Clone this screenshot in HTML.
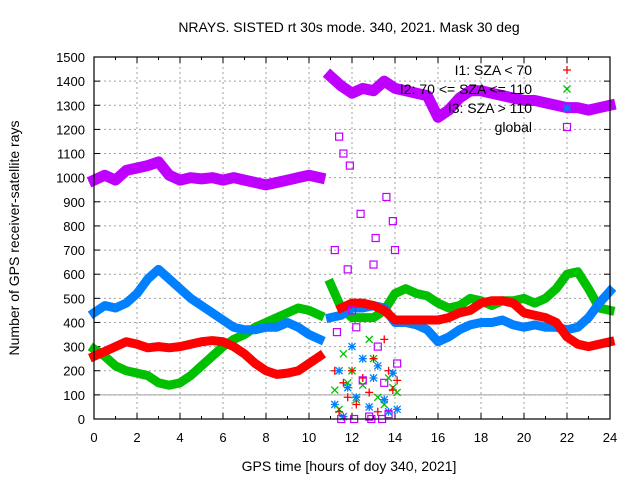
<!DOCTYPE html>
<html><head><meta charset="utf-8"><style>
body{margin:0;background:#fff}
svg{display:block;font-family:"Liberation Sans",sans-serif}
</style></head><body>
<svg id="chart" width="640" height="480">
<text x="349" y="32" text-anchor="middle" font-size="14">NRAYS. SISTED rt 30s mode. 340, 2021. Mask 30 deg</text>
<text transform="translate(19,238) rotate(-90)" text-anchor="middle" font-size="14">Number of GPS receiver-satellite rays</text>
<text x="349" y="471" text-anchor="middle" font-size="14">GPS time [hours of doy 340, 2021]</text>
<g id="grid"></g><g id="ticks"></g><g id="marks"></g><g id="legend"></g>
<rect x="94" y="57" width="516" height="362" fill="none" stroke="#000" stroke-width="1.2"/>
</svg>
<script>
const hours=[0,0.5,1,1.5,2,2.5,3,3.5,4,4.5,5,5.5,6,6.5,7,7.5,8,8.5,9,9.5,10,10.5,11,11.5,12,12.5,13,13.5,14,14.5,15,15.5,16,16.5,17,17.5,18,18.5,19,19.5,20,20.5,21,21.5,22,22.5,23,23.5,24];
const i1=[260,280,300,320,310,295,300,295,300,310,320,325,320,300,270,230,200,185,190,200,230,260,null,460,480,480,470,450,410,410,410,410,410,420,440,450,480,490,490,480,440,430,420,400,340,310,300,310,320];
const i2=[290,260,220,200,190,180,150,140,150,180,220,260,300,330,350,380,400,420,440,460,450,430,560,460,420,420,420,450,520,540,520,510,480,460,470,500,490,470,490,490,500,480,500,540,600,610,540,460,450];
const i3=[440,470,460,480,520,580,620,580,540,500,470,440,410,380,370,370,380,380,400,380,350,330,420,430,460,460,470,460,400,400,390,370,320,340,370,390,400,400,410,390,380,390,380,380,370,380,420,480,530];
const glob=[990,1010,990,1030,1040,1050,1065,1010,990,1000,995,1000,990,1000,990,980,970,980,990,1000,1010,1000,1420,1380,1350,1370,1360,1400,1370,1360,1350,1340,1250,1280,1330,1360,1360,1350,1340,1330,1320,1320,1310,1300,1290,1290,1280,1290,1300];
const scatX=[11.2,11.4,11.6,11.8,12.0,12.2,12.5,12.8,13.0,13.2,13.5,13.7,13.9,14.1,11.3,11.9,12.4,13.1,13.6,14.0,11.5,12.1,12.9,13.4];
const scatG=[700,1170,1100,620,450,380,160,10,640,300,150,20,820,230,360,1050,850,750,920,700,0,0,0,0];
const scatR=[200,30,150,90,200,60,170,110,250,30,330,200,120,160];
const scatI2=[120,40,270,150,200,80,140,330,250,90,60,170,130,110];
const scatI3=[60,200,10,130,300,90,250,50,170,220,80,30,190,40];
const xTicks=[0,2,4,6,8,10,12,14,16,18,20,22,24];
const yTicks=[0,100,200,300,400,500,600,700,800,900,1000,1100,1200,1300,1400,1500];
const X=h=>94+h*516/24, Y=v=>419-v*362/1500;
const NS="http://www.w3.org/2000/svg";
function mk(parent,tag,attrs){const e=document.createElementNS(NS,tag);for(const k in attrs)e.setAttribute(k,attrs[k]);document.getElementById(parent).appendChild(e);return e;}
yTicks.forEach(v=>{
 if(v>0&&v<1500){const g=mk('grid','line',{x1:94,x2:610,y1:Y(v),y2:Y(v),stroke:'#a0a0a0','stroke-dasharray':'2,3'});
 
 }
 const t=mk('ticks','text',{x:85,y:Y(v)+5,'text-anchor':'end','font-size':13});t.textContent=v;
 
 
 mk('ticks','line',{x1:94,x2:100,y1:Y(v),y2:Y(v),stroke:'#000'});mk('ticks','line',{x1:604,x2:610,y1:Y(v),y2:Y(v),stroke:'#000'});
});
const cy=mk('grid','line',{x1:94,x2:610,y1:Y(100),y2:Y(100),stroke:'#a0a0a0'});


for(let h=0;h<=24;h++){const big=h%2==0;mk('ticks','line',{x1:X(h),x2:X(h),y1:419,y2:big?413:416,stroke:'#000'});mk('ticks','line',{x1:X(h),x2:X(h),y1:57,y2:big?63:60,stroke:'#000'});}
xTicks.forEach(h=>{
 if(h>0&&h<24){const g=mk('grid','line',{x1:X(h),x2:X(h),y1:57,y2:419,stroke:'#a0a0a0','stroke-dasharray':'2,3'});
 
 }
 const t=mk('ticks','text',{x:X(h),y:442,'text-anchor':'middle','font-size':13});t.textContent=h;
 
 
});
function band(vals,color,name,w){
 let segs=[],cur=[],prevH=null;
 vals.forEach((v,i)=>{
  const h=hours[i];
  if(v==null||(prevH!==null&&prevH<=10.5&&h>=11)){if(cur.length)segs.push(cur);cur=[];}
  if(v!=null){cur.push(X(h)+','+Y(v));prevH=h;}
 });
 if(cur.length)segs.push(cur);
 segs.forEach(s=>{const p=mk('marks','polyline',{points:s.join(' '),fill:'none',stroke:color,'stroke-width':w,'stroke-linejoin':'round','stroke-linecap':'square'});
 
 });
}
function marker(type,x,y,color,name){
 let e;
 if(type=='sq')e=mk('marks','rect',{x:x-3.5,y:y-3.5,width:7,height:7,fill:'none',stroke:color,'stroke-width':1.2});
 else{let d='';if(type=='+'||type=='*')d+=`M${x-4} ${y}H${x+4}M${x} ${y-4}V${y+4}`;if(type=='x'||type=='*')d+=`M${x-3.5} ${y-3.5}L${x+3.5} ${y+3.5}M${x-3.5} ${y+3.5}L${x+3.5} ${y-3.5}`;
 e=mk('marks','path',{d:d,stroke:color,'stroke-width':1.3,fill:'none'});}
 
 
}
band(i2,'#00c000','i2-series',9);band(i3,'#0080ff','i3-series',9);band(i1,'#ff0000','i1-series',9);band(glob,'#c000ff','global-series',11);
scatX.forEach((h,i)=>{
 if(i<scatI2.length)marker('x',X(h),Y(scatI2[i]),'#00c000','i2-point');
 if(i<scatI3.length)marker('*',X(h),Y(scatI3[i]),'#0080ff','i3-point');
 if(i<scatR.length)marker('+',X(h),Y(scatR[i]),'#ff0000','i1-point');
 marker('sq',X(h),Y(scatG[i]),'#c000ff','global-point');
});
const leg=[['I1: SZA < 70','+','#ff0000'],['I2: 70 <= SZA <= 110','x','#00c000'],['I3: SZA > 110','*','#0080ff'],['global','sq','#c000ff']];
leg.forEach((l,i)=>{const y=70+i*19;const t=mk('legend','text',{x:532,y:y+5,'text-anchor':'end','font-size':14});t.textContent=l[0];
 
 
 marker(l[1],567,y,l[2],'legend-marker');});
</script>
</body></html>
